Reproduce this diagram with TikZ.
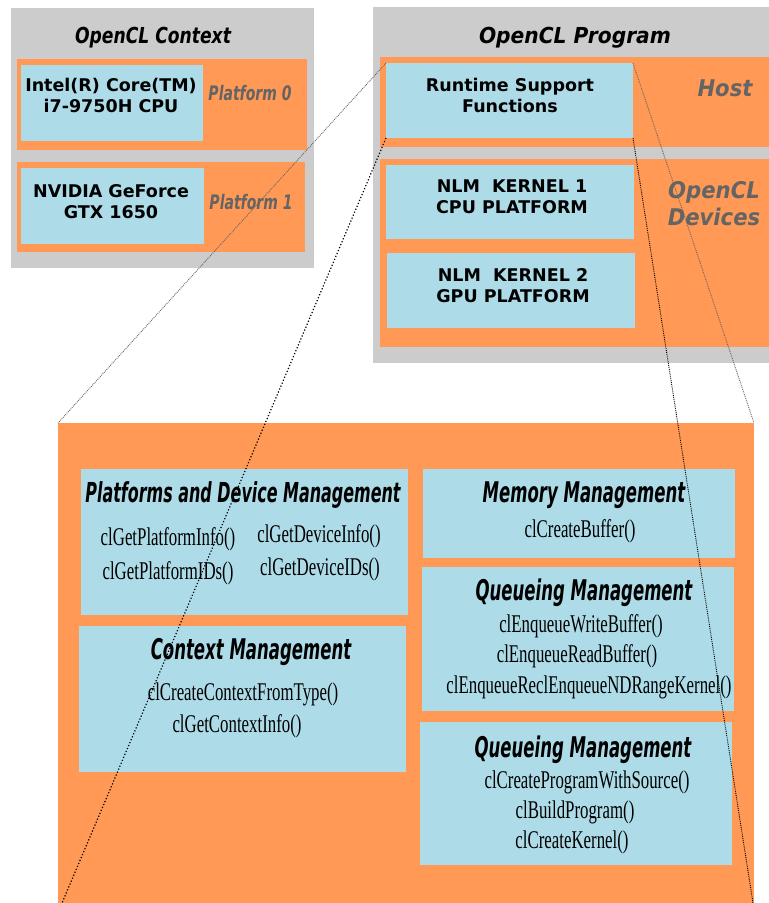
\documentclass[tikz,border=0pt]{standalone}
\usepackage{fontspec}
\usepackage{tikz}
\setmainfont{Liberation Serif}
\newfontfamily\unitfont{DejaVu Sans}
\newfontfamily\wideheadfont[FakeStretch=0.92]{DejaVu Sans}
\newfontfamily\narrowheadfont[FakeStretch=0.78]{DejaVu Sans}
\newfontfamily\tagfont[FakeStretch=0.70]{DejaVu Sans}
\newfontfamily\apiheadfont[FakeStretch=0.58]{DejaVu Sans}
\newfontfamily\apifont[FakeStretch=0.66]{Liberation Serif}
\definecolor{panelgrey}{RGB}{204,204,204}
\definecolor{slotorange}{RGB}{255,153,85}
\definecolor{unitblue}{RGB}{173,220,232}
\definecolor{taggrey}{RGB}{100,100,100}

\begin{document}
\begin{tikzpicture}[x=1pt, y=-1pt,
    unitlabel/.style={font=\unitfont\bfseries\fontsize{17.5}{20.5}\selectfont,
      align=center, anchor=base, inner sep=0pt},
    panelhead/.style={font=\wideheadfont\bfseries\itshape\fontsize{22}{26}\selectfont,
      anchor=base, inner sep=0pt},
    sidetag/.style={taggrey, font=\wideheadfont\bfseries\itshape\fontsize{23}{27}\selectfont,
      align=center, anchor=base, inner sep=0pt},
    platformtag/.style={taggrey, font=\tagfont\bfseries\itshape\fontsize{20}{24}\selectfont,
      anchor=base, inner sep=0pt},
    apihead/.style={font=\apiheadfont\bfseries\itshape\fontsize{28.5}{32}\selectfont,
      anchor=base, inner sep=0pt},
    apicall/.style={font=\apifont\fontsize{25.5}{28}\selectfont, anchor=base, inner sep=0pt},
    guide/.style={densely dotted, black!60, line width=0.9pt},
    guidedark/.style={dotted, black, line width=1.2pt}]
  \useasboundingbox (0,0) rectangle (769,903);

  % Context panel with its two platforms
  \fill[panelgrey] (11,8) rectangle (314,268);
  \node[panelhead, font=\narrowheadfont\bfseries\itshape\fontsize{22}{26}\selectfont]
    (ctx-title) at (153,43) {OpenCL Context};
  \fill[slotorange] (17,59) rectangle (307,150);
  \fill[unitblue] (21,65) rectangle (203,141);
  \node[unitlabel] (cpu) at (111,112) {Intel(R) Core(TM)\\i7-9750H CPU};
  \node[platformtag] (plat0) at (250,100) {Platform 0};
  \fill[slotorange] (17,162) rectangle (305,252);
  \fill[unitblue] (21,168) rectangle (204,244);
  \node[unitlabel] (gpu) at (111,218) {NVIDIA GeForce\\GTX 1650};
  \node[platformtag] (plat1) at (251,209) {Platform 1};

  % Program panel: host side and devices
  \fill[panelgrey] (373,7) rectangle (769,363);
  \node[panelhead] (prog-title) at (575,43) {OpenCL Program};
  \fill[slotorange] (380,57) rectangle (769,147);
  \node[anchor=north west, fill=unitblue, inner sep=0pt, outer sep=0pt,
    minimum width=247pt, minimum height=75pt] (rt) at (386,63) {};
  \node[unitlabel] (rt-text) at (510,112) {Runtime Support\\Functions};
  \node[sidetag] (host) at (725,96) {Host};
  \fill[slotorange] (380,159) rectangle (769,347);
  \fill[unitblue] (386,165) rectangle (634,239);
  \node[unitlabel] (kern1) at (512,213) {NLM\ \ KERNEL 1\\CPU PLATFORM};
  \fill[unitblue] (387,253) rectangle (635,328);
  \node[unitlabel] (kern2) at (513,302) {NLM\ \ KERNEL 2\\GPU PLATFORM};
  \node[sidetag] (devices) at (714,225) {OpenCL\\Devices};

  % Expanded runtime functions
  \node[anchor=north west, fill=slotorange, inner sep=0pt, outer sep=0pt,
    minimum width=696pt, minimum height=480pt] (zoom) at (58,423) {};

  \fill[unitblue] (81,469) rectangle (408,615);
  \node[apihead, font=\apiheadfont\bfseries\itshape\fontsize{27.5}{32}\selectfont]
    (dev-head) at (243,502) {Platforms and Device Management};
  \node[apicall] (dev1) at (168,545) {clGetPlatformInfo()};
  \node[apicall] (dev2) at (168,579) {clGetPlatformIDs()};
  \node[apicall] (dev3) at (319,542) {clGetDeviceInfo()};
  \node[apicall] (dev4) at (320,575) {clGetDeviceIDs()};

  \fill[unitblue] (79,626) rectangle (406,772);
  \node[apihead] (ctx-head) at (251,659) {Context Management};
  \node[apicall] (ctx1) at (243,700) {clCreateContextFromType()};
  \node[apicall] (ctx2) at (237,732) {clGetContextInfo()};

  \fill[unitblue] (423,469) rectangle (735,558);
  \node[apihead] (mem-head) at (584,502) {Memory Management};
  \node[apicall] (mem1) at (580,537) {clCreateBuffer()};

  \fill[unitblue] (422,567) rectangle (734,711);
  \node[apihead] (queue-head) at (584,600) {Queueing Management};
  \node[apicall] (queue1) at (581,632) {clEnqueueWriteBuffer()};
  \node[apicall] (queue2) at (577,662) {clEnqueueReadBuffer()};
  \node[apicall] (queue3) at (589,693) {clEnqueueReclEnqueueNDRangeKernel()};

  \fill[unitblue] (420,722) rectangle (732,865);
  \node[apihead] (build-head) at (583,757) {Queueing Management};
  \node[apicall] (build1) at (587,788) {clCreateProgramWithSource()};
  \node[apicall] (build2) at (575,818) {clBuildProgram()};
  \node[apicall] (build3) at (572,848) {clCreateKernel()};

  % Zoom guides from the runtime box
  \draw[guide] (rt.north west) -- (zoom.north west);
  \draw[guide] (rt.north east) -- (zoom.north east);
  \draw[guidedark] (rt.south west) -- ([xshift=4pt]zoom.south west);
  \draw[guide, black] (rt.south east) -- ([xshift=-1pt]zoom.south east);
\end{tikzpicture}
\end{document}
